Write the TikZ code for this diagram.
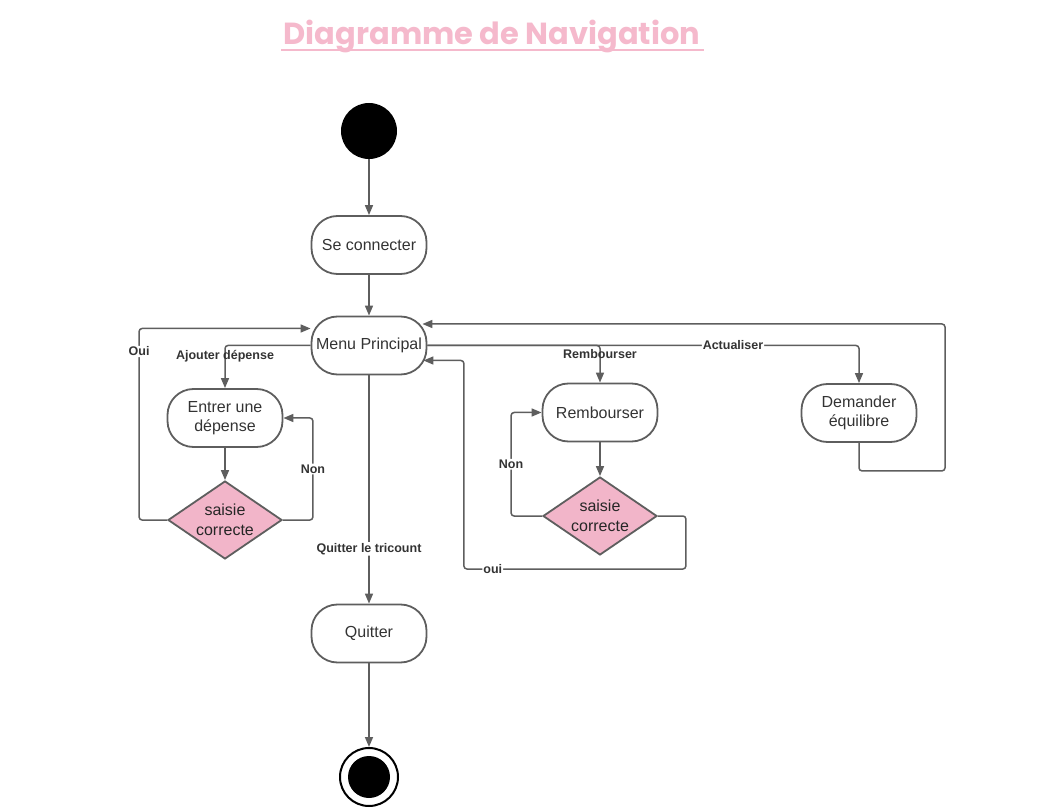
\documentclass[tikz,border=0pt]{standalone}
\usepackage{fontspec}
\setmainfont{Liberation Sans}
\newfontfamily\titlefont{Poppins}
\usetikzlibrary{shapes.geometric,arrows.meta,positioning,calc}

\definecolor{linegray}{HTML}{5E5E5E}
\definecolor{textgray}{HTML}{333333}
\definecolor{rosefill}{HTML}{F2B5C9}
\definecolor{titlepink}{HTML}{F5B9CC}

\begin{document}
\begin{tikzpicture}[x=1pt,y=-1pt,
	state/.style={draw=linegray, line width=1.8pt, rounded corners=26pt, minimum width=115pt, minimum height=58pt, align=center, text=textgray, font=\fontsize{16}{19.5}\selectfont},
	check/.style={diamond, aspect=1.46, draw=linegray, line width=1.8pt, fill=rosefill, minimum width=114pt, minimum height=78pt, inner sep=0pt, align=center, text=black!85, font=\fontsize{16}{19.5}\selectfont},
	flow/.style={draw=linegray, line width=1.5pt, rounded corners=3pt, -{Triangle[length=10pt,width=8pt]}},
	lbl/.style={font=\bfseries\fontsize{12.5}{14}\selectfont, text=textgray, inner sep=1pt},
	blank/.style={lbl, fill=white}]
					\useasboundingbox (0,0) rectangle (1037,810);
					
					% Title
					\node[font=\titlefont\bfseries\fontsize{30.5}{34}\selectfont, text=titlepink] (title) at (492,36) {Diagramme de Navigation};
					\draw[titlepink, line width=2pt] (281,50) -- (704,50);
					
					% Start / end
					\node[circle, fill=black, minimum size=56pt, inner sep=0pt] (start) at (369,131) {};
					\node[circle, draw=black, line width=2pt, minimum size=58pt, inner sep=0pt] (finish) at (369,777) {};
					\fill[black] (finish.center) circle (21pt);
					
					% States
					\node[state] (login) at (369,245) {Se connecter};
					\node[state] (menu) at (369,345.5) {Menu Principal};
					\node[state] (entry) at (225,418) {Entrer une\\d\'epense};
					\node[state] (refund) at (600,412.5) {Rembourser};
					\node[state] (balance) at (859,413) {Demander\\\'equilibre};
					\node[state] (quit) at (369,633.5) {Quitter};
					
					% Checks
					\node[check] (check1) at (225,520) {saisie\\correcte};
					\node[check] (check2) at (600,516) {saisie\\correcte};
					
					% Main line
					\draw[flow] (start) -- (login);
					\draw[flow] (login) -- (menu);
					\draw[flow] (menu) -- node[blank, pos=0.76] {Quitter le tricount} (quit);
					\draw[flow] (quit) -- (finish);
					
					% Ajouter depense
					\draw[flow] (menu.west) -| node[lbl, pos=0.62] {Ajouter d\'epense} (entry.north);
					\draw[flow] (entry) -- (check1);
					\draw[flow] (check1.east) -- ++(30,0) |- node[blank, pos=0.25] {Non} (entry.east);
					\draw[flow] (check1.west) -- ++(-28,0) |- node[blank, pos=0.44] {Oui} ([yshift=17pt]menu.west);
					
					% Rembourser
					\draw[flow] (menu.east) -| node[lbl, pos=0.62] {Rembourser} (refund.north);
					\draw[flow] (refund) -- (check2);
					\draw[flow] (check2.west) -- ++(-31,0) |- node[blank, pos=0.25] {Non} (refund.west);
					\draw[flow] (check2.east) -- ++(28,0) -- ++(0,53) -- node[blank, pos=0.87] {oui} ++(-222,0) |- ([xshift=-4pt,yshift=-15pt]menu.east);
					
					% Actualiser
					\draw[flow] (menu.east) -| node[blank, pos=0.354] {Actualiser} (balance.north);
					\draw[flow] (balance.south) |- ++(86,28) |- ([xshift=-5pt,yshift=21.5pt]menu.east);
\end{tikzpicture}
\end{document}
